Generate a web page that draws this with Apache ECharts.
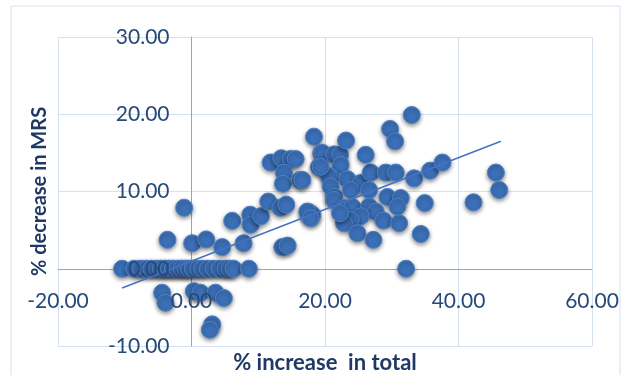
<!DOCTYPE html>
<html>
<head>
<meta charset="utf-8">
<script src="https://cdn.jsdelivr.net/npm/echarts@6/dist/echarts.min.js"></script>
<style>
  html, body { margin: 0; padding: 0; background: #ffffff; }
  #chart { width: 629px; height: 375px; }
</style>
</head>
<body>
<div id="chart"></div>
<script>
// ============================================
// DATA
// ============================================

// points sitting on the zero line
const zeroRowX = [-10.4, -8.6, -7.6, -6.8, -6.0, -5.3, -4.6, -4.0, -3.4, -2.8, -2.1, -1.5,
    -0.9, -0.4, 0.2, 1.0, 1.6, 2.4, 3.3, 4.2, 5.1, 5.7, 6.3, 8.6];

// all other points, x = % increase in total, y = % decrease in MRS
const pointX = [
    -4.4, -3.9, 0.35, 1.35, 3.6, 4.85, 3.1, 2.75,
    -1.1, -3.6, 0.1, 2.2, 4.6, 6.1, 7.8, 8.8, 8.85, 10.4, 11.5, 13.3, 14.2, 13.6, 14.4,
    11.85, 13.45, 14.85, 15.6, 13.85, 13.7, 16.25, 16.6, 18.35, 19.45, 19.6, 21.35, 22.25,
    19.1, 22.35, 20.85, 20.6, 23.35, 25.35, 26.85, 29.1, 30.6, 33.35, 35.75, 37.6,
    45.6, 46.1, 42.25, 34.95, 34.35, 32.15, 20.85, 21.35, 21.35, 23.85, 26.6, 29.35,
    31.35, 30.85, 22.85, 24.1, 26.6, 27.6, 25.35, 23.85, 22.85, 28.75, 31.1, 24.85,
    27.25, 17.6, 18.1, 17.35, 17.85, 22.25, 33.0, 29.75, 30.5, 23.15, 26.1, 19.35
];
const pointY = [
    -3.1, -4.4, -2.9, -3.1, -3.1, -3.8, -7.2, -7.9,
    7.9, 3.75, 3.3, 3.8, 2.8, 6.2, 3.3, 7.0, 5.7, 6.8, 8.7, 7.9, 8.3, 2.8, 3.0,
    13.75, 14.3, 14.2, 14.2, 12.45, 11.0, 11.5, 11.5, 17.1, 15.0, 15.0, 14.8, 14.75,
    13.2, 13.45, 11.95, 11.9, 11.6, 11.1, 12.45, 12.45, 12.45, 11.7, 12.7, 13.75,
    12.45, 10.2, 8.6, 8.5, 4.5, 0.0, 10.65, 9.35, 8.9, 10.2, 10.2, 9.3,
    9.15, 8.05, 7.85, 8.0, 8.05, 7.4, 6.8, 6.35, 5.9, 6.25, 5.9, 4.6,
    3.75, 7.3, 7.0, 7.4, 6.55, 7.2, 19.9, 18.1, 16.5, 16.6, 14.75, 13.2
];

// linear trendline end points
const trendX = [-10.4, 46.35];
const trendY = [-2.5, 16.5];

// axis ticks
const xTicks = [-20, 0, 20, 40, 60];
const yTicks = [-10, 0, 10, 20, 30];

const xTitle = '% increase  in total';
const yTitle = '% decrease in MRS';

// ============================================
// CHART
// ============================================

const W = 629, H = 375;
const grid = { left: 58, right: 37, top: 37, bottom: 29 };
const titleColor = '#1F3864';
const labelColor = '#264978';
const fontFamily = 'Lato, "Open Sans", sans-serif';

const scatterData = zeroRowX.map(x => [x, 0])
    .concat(pointX.map((x, i) => [x, pointY[i]]));

const trendData = trendX.map((x, i) => [x, trendY[i]]);

function axisBase(ticks) {
    return {
        type: 'value',
        min: ticks[0],
        max: ticks[ticks.length - 1],
        interval: ticks[1] - ticks[0]
    };
}

// how far the zero line sits inside the grid from its min edge
function zeroOffset(ticks, length) {
    const min = ticks[0], max = ticks[ticks.length - 1];
    return length * (0 - min) / (max - min);
}

const labelStyle = {
    color: labelColor,
    fontSize: 21,
    fontFamily: fontFamily,
    formatter: v => v.toFixed(2)
};

const chart = echarts.init(document.getElementById('chart'));

chart.setOption({
    backgroundColor: '#ffffff',
    animation: false,
    graphic: [{
        type: 'rect',
        shape: { x: 11, y: 6, width: 609, height: 380 },
        style: { fill: 'none', stroke: '#D5E1F1', lineWidth: 1 },
        silent: true
    }],
    grid: Object.assign({ outerBoundsMode: 'none', containLabel: false }, grid),
    xAxis: [
        Object.assign(axisBase(xTicks), {
            axisLine: { onZero: true, lineStyle: { color: '#86A6D8', width: 1 } },
            axisTick: { show: false },
            axisLabel: { show: false },
            splitLine: { lineStyle: { color: '#D5E1F1', width: 1 } },
            name: xTitle,
            nameLocation: 'middle',
            nameGap: 6,
            nameTextStyle: { color: titleColor, fontSize: 22, fontWeight: 'bold', fontFamily: fontFamily }
        }),
        // label-only copy, pulled up to the zero line, so labels sit above the markers
        Object.assign(axisBase(xTicks), {
            position: 'bottom',
            offset: -zeroOffset(yTicks, H - grid.top - grid.bottom),
            z: 10,
            axisLine: { show: false, onZero: false },
            axisTick: { show: false },
            splitLine: { show: false },
            axisLabel: Object.assign({ margin: 22 }, labelStyle)
        })
    ],
    yAxis: [
        Object.assign(axisBase(yTicks), {
            axisLine: { show: true, onZero: true, lineStyle: { color: '#86A6D8', width: 1 } },
            axisTick: { show: false },
            axisLabel: { show: false },
            splitLine: { lineStyle: { color: '#D5E1F1', width: 1 } },
            name: yTitle,
            nameLocation: 'middle',
            nameRotate: 90,
            nameGap: 8,
            nameTextStyle: { color: titleColor, fontSize: 20, fontWeight: 'bold', fontFamily: fontFamily }
        }),
        Object.assign(axisBase(yTicks), {
            position: 'left',
            offset: -zeroOffset(xTicks, W - grid.left - grid.right),
            z: 10,
            axisLine: { show: false, onZero: false },
            axisTick: { show: false },
            splitLine: { show: false },
            axisLabel: Object.assign({ margin: 22 }, labelStyle)
        })
    ],
    series: [
        {
            type: 'scatter',
            data: scatterData,
            symbolSize: 17,
            itemStyle: {
                color: '#3B6FB6',
                borderColor: '#4F82C6',
                borderWidth: 1,
                opacity: 1,
                shadowBlur: 4,
                shadowOffsetY: 2,
                shadowColor: 'rgba(0, 0, 0, 0.45)'
            },
            z: 2
        },
        {
            type: 'line',
            data: trendData,
            symbol: 'none',
            lineStyle: { color: '#4472C4', width: 1.5 },
            z: 4
        }
    ]
});
</script>
</body>
</html>
